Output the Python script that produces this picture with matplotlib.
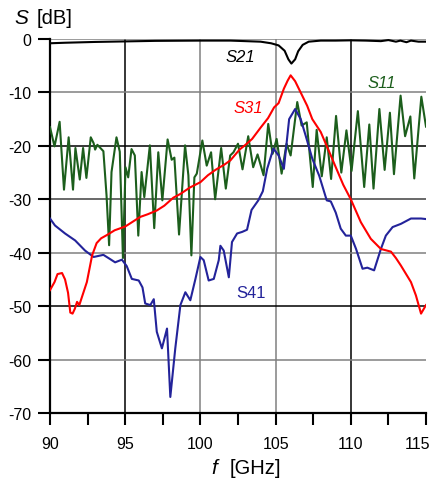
import matplotlib
matplotlib.use("Agg")
import matplotlib.pyplot as plt
import matplotlib.transforms as mtransforms

plt.rcParams['font.family'] = ['Liberation Sans', 'DejaVu Sans']
plt.rcParams['axes.unicode_minus'] = False

# S21 (schwarz)
s21_f = [90.0, 91.0, 93.0, 95.0, 97.0, 100.0, 102.0, 103.0, 104.0, 104.7, 105.2,
         105.6, 105.85, 106.05, 106.3, 106.5, 106.8, 107.2, 108.0, 109.0, 110.0,
         111.0, 112.0, 112.5, 113.0, 113.3, 113.7, 114.0, 114.5, 115.0]
s21_db = [-0.8, -0.7, -0.55, -0.45, -0.35, -0.3, -0.3, -0.4, -0.5, -0.8, -1.2,
          -2.2, -3.8, -4.6, -3.8, -2.3, -1.1, -0.5, -0.3, -0.3, -0.25,
          -0.3, -0.4, -0.2, -0.5, -0.3, -0.6, -0.3, -0.5, -0.5]

# S11 (gruen)
s11_f = [90.0, 90.3, 90.64, 90.93, 91.24, 91.53, 91.69, 91.98, 92.2, 92.42, 92.71,
         92.9, 93.0, 93.15, 93.35, 93.55, 93.76, 93.93, 94.09, 94.42, 94.64, 94.85,
         95.02, 95.2, 95.42, 95.64, 95.87, 96.09, 96.27, 96.64, 96.93, 97.2, 97.47,
         97.82, 98.09, 98.27, 98.58, 98.98, 99.2, 99.4, 99.6, 99.76, 100.13, 100.42,
         100.71, 100.98, 101.38, 101.69, 101.98, 102.2, 102.5, 102.8, 103.18, 103.51,
         103.8, 104.2, 104.51, 104.8, 105.07, 105.4, 105.73, 106.0, 106.44, 106.73,
         107.07, 107.47, 107.73, 108.07, 108.4, 108.69, 109.02, 109.37, 109.71, 110.05,
         110.47, 110.89, 111.23, 111.51, 111.9, 112.25, 112.6, 112.87, 113.31, 113.61,
         113.96, 114.22, 114.69, 115.0]
s11_db = [-16.5, -20.1, -15.5, -28.2, -18.4, -28.2, -20.4, -26.3, -20.4, -26.0, -18.4,
          -19.5, -20.7, -19.8, -20.4, -21.0, -29.3, -38.6, -24.9, -18.4, -21.1, -41.0,
          -24.0, -25.9, -20.6, -21.8, -36.8, -24.9, -29.6, -19.9, -35.4, -21.2, -30.2,
          -18.8, -22.6, -22.2, -36.6, -19.9, -25.5, -40.5, -25.9, -25.2, -19.0, -23.7,
          -21.2, -30.0, -20.4, -28.0, -21.8, -21.2, -19.6, -24.4, -18.2, -24.0,
          -21.6, -25.5, -15.9, -21.5, -18.7, -25.2, -19.6, -21.8, -11.8, -16.2,
          -15.6, -27.7, -17.0, -25.7, -18.4, -26.2, -14.4, -25.0, -17.1, -24.7,
          -13.5, -27.7, -16.0, -28.0, -13.1, -24.5, -13.8, -25.3, -10.6, -18.2,
          -14.5, -26.1, -10.8, -16.4]

# S31 (rot)
s31_f = [90.0, 90.3, 90.5, 90.8, 91.0, 91.2, 91.35, 91.5, 91.65, 91.8, 91.95, 92.1,
         92.45, 92.8, 93.1, 93.4, 93.78, 94.3, 95.0, 95.5, 96.0, 96.5, 97.1, 97.6,
         98.2, 98.67, 99.3, 100.0, 100.5, 101.0, 101.6, 102.0, 102.6, 103.0, 103.44,
         104.0, 104.5, 104.9, 105.2, 105.55, 105.8, 106.0, 106.3, 106.7, 107.1,
         107.44, 108.0, 108.55, 109.0, 109.5, 110.0, 110.67, 111.33, 112.0, 112.67,
         113.0, 113.33, 114.0, 114.33, 114.67, 115.0]
s31_db = [-47.0, -45.5, -44.0, -43.8, -45.0, -47.5, -51.2, -51.4, -50.5, -49.2, -49.8, -48.5,
          -45.5, -40.5, -38.2, -37.3, -36.7, -35.8, -35.1, -34.2, -33.3, -32.8, -32.1, -31.2,
          -29.7, -29.0, -27.8, -26.8, -25.5, -24.5, -23.5, -22.7, -20.7, -19.8, -18.7,
          -16.6, -14.8, -12.8, -12.0, -9.3, -7.8, -6.8, -7.9, -10.2, -12.5,
          -15.0, -17.4, -21.0, -24.0, -27.3, -30.0, -34.3, -37.4, -39.3, -39.8,
          -41.0, -42.4, -45.5, -48.0, -51.4, -49.8]

# S41 (blau)
s41_f = [90.0, 90.33, 91.0, 91.67, 92.33, 92.9, 93.55, 94.0, 94.33, 94.78, 95.1, 95.44,
         95.9, 96.15, 96.33, 96.67, 96.9, 97.1, 97.44, 97.78, 98.0, 98.33, 98.67, 99.0,
         99.33, 99.67, 100.0, 100.22, 100.55, 100.89, 101.22, 101.33, 101.55, 101.89,
         102.1, 102.44, 102.78, 103.1, 103.4, 103.85, 104.15, 104.44, 104.85, 105.2,
         105.55, 105.9, 106.3, 106.67, 107.0, 107.44, 107.9, 108.4, 108.67, 109.0,
         109.33, 109.67, 110.0, 110.35, 110.78, 111.1, 111.55, 112.0, 112.33, 112.78,
         113.33, 114.0, 114.67, 115.0]
s41_db = [-33.6, -34.9, -36.4, -37.7, -39.6, -40.8, -40.4, -41.2, -41.8, -41.3, -42.5, -44.9,
          -45.2, -46.5, -49.5, -49.8, -48.7, -54.8, -57.9, -54.2, -67.0, -57.9, -49.8, -47.4,
          -48.9, -44.9, -40.8, -41.4, -45.2, -44.9, -41.4, -38.7, -39.6, -44.6,
          -38.0, -36.4, -36.1, -35.7, -32.0, -30.2, -28.5, -24.3, -20.5, -21.8,
          -24.3, -15.0, -13.1, -15.0, -18.1, -22.4, -25.6, -30.2, -30.4, -32.5,
          -35.5, -36.8, -36.8, -39.3, -43.0, -42.8, -43.3, -39.3, -36.8, -35.2,
          -34.6, -33.6, -33.6, -33.7]

fig = plt.figure(figsize=(4.31, 4.81), dpi=100)
ax = fig.add_axes([50 / 431, 1 - 414 / 481, 376 / 431, 374 / 481])

# Gitter von Hand, abwechselnd schwarz / grau
for xv, c in [(95, 'black'), (100, '#808080'), (105, '#808080'), (110, 'black')]:
    ax.axvline(xv, color=c, lw=1.1, zorder=1)
for yv, c in [(0, '#808080'), (-10, '#808080'), (-20, 'black'), (-30, '#404040'),
              (-40, '#808080'), (-50, 'black'), (-60, '#808080')]:
    ax.axhline(yv, color=c, lw=1.1, zorder=1)

ax.plot(s11_f, s11_db, color='#1c5e1c', lw=1.5, zorder=3)
ax.plot(s41_f, s41_db, color='#23239a', lw=1.5, zorder=3)
ax.plot(s31_f, s31_db, color='#ff0000', lw=1.5, zorder=4)
ax.plot(s21_f, s21_db, color='black', lw=1.5, zorder=5)

ax.set_xlim(90, 115)
ax.set_ylim(-70, 0)
ax.set_xticks(range(90, 116, 5))
ax.set_xticks([92.5, 97.5, 102.5, 107.5, 112.5], minor=True)
ax.set_yticks(range(-70, 1, 10))
ax.tick_params(axis='both', which='both', direction='out', length=8.5, width=1.5,
               labelsize=11.5)
ax.tick_params(axis='x', which='major', pad=8)
ax.tick_params(axis='y', which='major', pad=5)

# letzte Beschriftung (115) nach links schieben, damit sie nicht abgeschnitten wird
last = ax.get_xticklabels()[-1]
last.set_horizontalalignment('right')
last.set_transform(last.get_transform() +
                   mtransforms.ScaledTranslation(4 / 100, 0, fig.dpi_scale_trans))

for side in ['top', 'right']:
    ax.spines[side].set_visible(False)
ax.spines['left'].set_linewidth(1.6)
ax.spines['bottom'].set_linewidth(1.6)

# Kurvenbeschriftung
ax.text(101.67, -4.1, 'S21', style='italic', fontsize=12, color='black', va='baseline')
ax.text(111.13, -9.0, 'S11', style='italic', fontsize=12, color='#1c5e1c', va='baseline')
ax.text(102.2, -13.6, 'S31', style='italic', fontsize=12, color='#ff0000', va='baseline')
ax.text(102.4, -48.2, 'S41', fontsize=12, color='#23239a', va='baseline')

# Achsenbeschriftung
fig.text(14 / 431, 1 - 24 / 481, 'S', style='italic', fontsize=15, va='baseline')
fig.text(37 / 431, 1 - 24 / 481, '[dB]', fontsize=14.5, va='baseline')
fig.text(211 / 431, 1 - 474 / 481, 'f', style='italic', fontsize=15, va='baseline')
fig.text(230 / 431, 1 - 474 / 481, '[GHz]', fontsize=14.5, va='baseline')

fig.savefig('out.png', dpi=100)
